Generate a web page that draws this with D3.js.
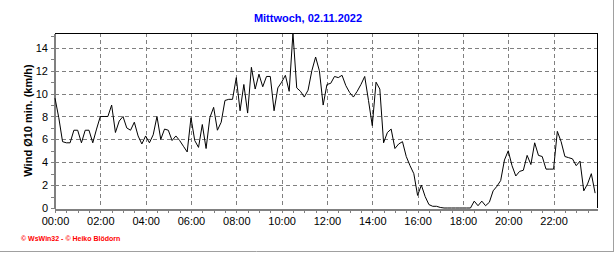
<!DOCTYPE html>
<html>
<head>
<meta charset="utf-8">
<script src="https://cdn.jsdelivr.net/npm/d3@7"></script>
<style>
  body { margin: 0; background: #fff; }
  svg { display: block; font-family: "Liberation Sans", Arial, sans-serif; }
</style>
</head>
<body>
<div id="chart"></div>
<script>
// Wind average (10 min) for one day, one value every 10 minutes from 00:00
const title = "Mittwoch, 02.11.2022";
const yLabel = "Wind \u00D810 min. (km/h)";
const footer = "\u00A9 WsWin32 - \u00A9 Heiko Bl\u00F6dorn";
const stepMinutes = 10;
const windValues = [
    9.6, 7.9, 5.8, 5.7, 5.7, 6.8, 6.8, 5.7, 6.8, 6.8, 5.7, 6.9,
    8.0, 8.0, 8.0, 9.0, 6.6, 7.6, 8.0, 7.0, 6.8, 7.5, 6.3, 5.6,
    6.3, 5.7, 6.4, 8.0, 6.0, 6.9, 6.8, 5.9, 6.3, 5.9, 5.4, 4.9,
    7.9, 5.9, 5.3, 7.3, 5.2, 7.9, 8.8, 6.8, 7.5, 9.4, 9.5, 9.5,
    11.4, 8.5, 10.8, 8.3, 12.3, 10.4, 11.7, 10.6, 11.5, 11.5, 8.5, 10.5,
    11.0, 11.6, 10.2, 15.3, 10.5, 10.2, 9.7, 10.3, 12.0, 13.2, 12.0, 9.0,
    10.8, 10.9, 11.5, 11.4, 11.6, 10.7, 10.1, 9.7, 10.2, 10.8, 11.5, 9.4,
    7.2, 11.0, 10.4, 5.7, 6.6, 6.9, 5.2, 5.6, 5.8, 4.5, 3.7, 3.0,
    1.1, 2.0, 1.0, 0.3, 0.15, 0.15, 0.05, 0, 0, 0, 0, 0,
    0, 0, 0, 0.6, 0.2, 0.6, 0.2, 0.5, 1.5, 1.9, 2.4, 4.2,
    5.0, 3.7, 2.8, 3.2, 3.3, 4.6, 3.8, 5.7, 4.6, 4.5, 3.4, 3.4,
    3.4, 6.7, 5.8, 4.5, 4.4, 4.3, 3.7, 4.1, 1.5, 2.1, 3.0, 1.3
];
const xTickLabels = ["00:00", "02:00", "04:00", "06:00", "08:00", "10:00",
    "12:00", "14:00", "16:00", "18:00", "20:00", "22:00"];
const yTickValues = [0, 2, 4, 6, 8, 10, 12, 14];

const svgWidth = 616,
    svgHeight = 253;
const margins = {top: 33, right: 19, bottom: 45, left: 55};
const endMinutes = 1435;

const toMinutes = s => +s.slice(0, 2) * 60 + +s.slice(3);

const svg = d3.select("#chart").append("svg")
    .attr("width", svgWidth)
    .attr("height", svgHeight);

const xScale = d3.scaleLinear()
    .domain([0, endMinutes])
    .range([margins.left, svgWidth - margins.right]);

const yScale = d3.scaleLinear()
    .domain([0, d3.max(windValues)])
    .range([svgHeight - margins.bottom, margins.top]);

const x0 = xScale.range()[0], x1 = xScale.range()[1];
const y0 = yScale.range()[0], y1 = yScale.range()[1];

// frame of the image
svg.append("line").attr("x1", 613.5).attr("x2", 613.5).attr("y1", 0).attr("y2", 252)
    .attr("stroke", "#a0a0a0");
svg.append("line").attr("x1", 0).attr("x2", 614).attr("y1", 251.5).attr("y2", 251.5)
    .attr("stroke", "#a0a0a0");

// grid
const grid = svg.append("g")
    .attr("stroke", "#808080")
    .attr("stroke-dasharray", "4,3")
    .attr("shape-rendering", "crispEdges");

grid.selectAll(".gx")
    .data(xTickLabels.slice(1))
    .enter().append("line")
    .attr("x1", d => Math.round(xScale(toMinutes(d))) + 0.5)
    .attr("x2", d => Math.round(xScale(toMinutes(d))) + 0.5)
    .attr("y1", y1)
    .attr("y2", y0);

grid.selectAll(".gy")
    .data(yTickValues.slice(1))
    .enter().append("line")
    .attr("x1", x0)
    .attr("x2", x1)
    .attr("y1", d => Math.round(yScale(d)) + 0.5)
    .attr("y2", d => Math.round(yScale(d)) + 0.5);

// top and right border
svg.append("path")
    .attr("d", `M${x0},${y1 + 0.5}H${x1 + 0.5}V${y0}`)
    .attr("fill", "none")
    .attr("stroke", "#000")
    .attr("shape-rendering", "crispEdges");

// Axes
const xAxis = d3.axisBottom(xScale)
    .tickValues(d3.range(0, endMinutes, 30))
    .tickSize(4)
    .tickSizeOuter(0)
    .tickFormat(d => d % 120 === 0 ? xTickLabels[d / 120] : "");

const yAxis = d3.axisLeft(yScale)
    .tickValues(d3.range(0, 16))
    .tickSize(3)
    .tickSizeOuter(0)
    .tickFormat(d => yTickValues.includes(d) ? d : "");

const gx = svg.append("g")
    .attr("transform", `translate(0, ${y0 + 1})`)
    .call(xAxis);

const gy = svg.append("g")
    .attr("transform", `translate(${x0 - 1}, 0)`)
    .call(yAxis);

[gx, gy].forEach(g => {
    g.attr("shape-rendering", "crispEdges");
    g.select(".domain").attr("stroke", "#808080").attr("stroke-width", 2);
    g.selectAll(".tick line").attr("stroke", "#808080");
    g.selectAll(".tick text")
        .attr("fill", "#000")
        .style("font-size", "11px")
        .style("font-family", "'Liberation Sans', Arial, sans-serif");
});
gx.selectAll(".tick text").attr("y", 8);
gy.selectAll(".tick text").attr("x", -6);

// wind line
const line = d3.line()
    .x((d, i) => xScale(i * stepMinutes))
    .y(d => yScale(d));

svg.append("path")
    .datum(windValues)
    .attr("fill", "none")
    .attr("stroke", "#000")
    .attr("stroke-width", 1)
    .attr("d", line);

// Title
svg.append("text")
    .attr("x", svgWidth / 2)
    .attr("y", 22)
    .style("text-anchor", "middle")
    .style("font-size", "11px")
    .style("font-weight", "bold")
    .attr("fill", "#0000ff")
    .text(title);

// Axis label
svg.append("text")
    .attr("transform", `translate(32, ${(y0 + y1) / 2}) rotate(-90)`)
    .style("text-anchor", "middle")
    .style("font-size", "11px")
    .style("font-weight", "bold")
    .attr("fill", "#000")
    .text(yLabel);

// footer
svg.append("text")
    .attr("x", 21)
    .attr("y", 241)
    .style("font-size", "7px")
    .style("font-weight", "bold")
    .attr("fill", "#ff0000")
    .text(footer);
</script>
</body>
</html>
